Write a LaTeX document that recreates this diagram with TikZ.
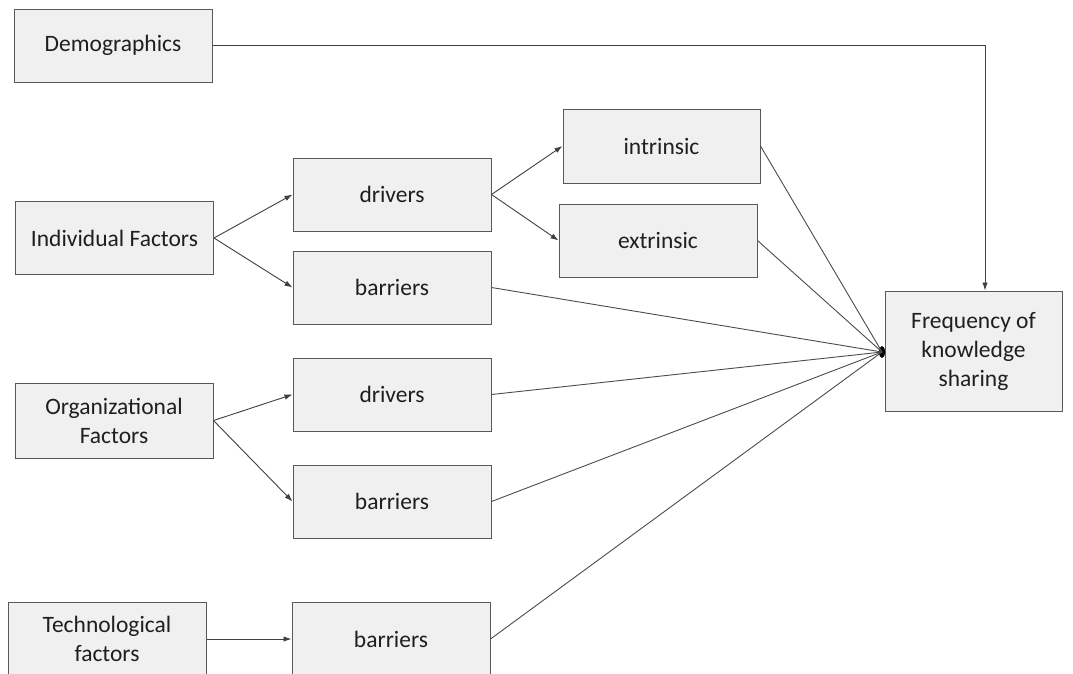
\documentclass[tikz,border=0pt]{standalone}
\usepackage{fontspec}
\setmainfont{Carlito}
\usetikzlibrary{arrows.meta,shapes.geometric}
\begin{document}
\begin{tikzpicture}[x=1pt,y=-1pt,
  box/.style={draw=black!65, line width=1pt, fill=black!6, minimum width=198pt, minimum height=73pt,
    inner sep=0pt, align=center, font=\fontsize{23.5}{29}\selectfont, text=black!88},
  arr/.style={draw=black!75, line width=0.9pt, -{Latex[length=8pt,width=5.5pt]}},
  ln/.style={draw=black!70, line width=0.9pt}]
\clip (0,0) rectangle (1073,673);
\fill[white] (0,0) rectangle (1073,673);
\node[box] (demo) at (113,45.5) {Demographics};
\node[box] (indf) at (114.5,238) {Individual Factors};
\node[box] (drv1) at (392,194.5) {drivers};
\node[box] (bar1) at (392,287.5) {barriers};
\node[box, minimum width=197pt, minimum height=74pt] (intr) at (661.5,146) {intrinsic};
\node[box] (extr) at (658,240.5) {extrinsic};
\node[box, minimum width=177pt, minimum height=120pt] (freq) at (973.5,351) {Frequency of\\knowledge\\sharing};
\node[box, minimum height=75pt] (orgf) at (114,420.5) {Organizational\\Factors};
\node[box] (drv2) at (392,394.5) {drivers};
\node[box] (bar2) at (392,501.5) {barriers};
\node[box, minimum height=74pt] (tech) at (107,639) {Technological\\factors};
\node[box, minimum height=74pt] (bar3) at (391,639) {barriers};
\node[ellipse, fill=black, minimum width=6pt, minimum height=12pt, inner sep=0pt] (conv) at (882,352) {};
\draw[arr] (demo.east) -| ([xshift=11.5pt]freq.north);
\draw[arr] (indf.east) -- (drv1.west);
\draw[arr] (indf.east) -- (bar1.west);
\draw[arr] (drv1.east) -- (intr.west);
\draw[arr] (drv1.east) -- (extr.west);
\draw[arr] (orgf.east) -- (drv2.west);
\draw[arr] (orgf.east) -- (bar2.west);
\draw[arr] (tech.east) -- (bar3.west);
\draw[ln] (intr.east) -- (conv.center);
\draw[ln] (extr.east) -- (conv.center);
\draw[ln] (bar1.east) -- (conv.center);
\draw[ln] (drv2.east) -- (conv.center);
\draw[ln] (bar2.east) -- (conv.center);
\draw[ln] (bar3.east) -- (conv.center);
\end{tikzpicture}
\end{document}
